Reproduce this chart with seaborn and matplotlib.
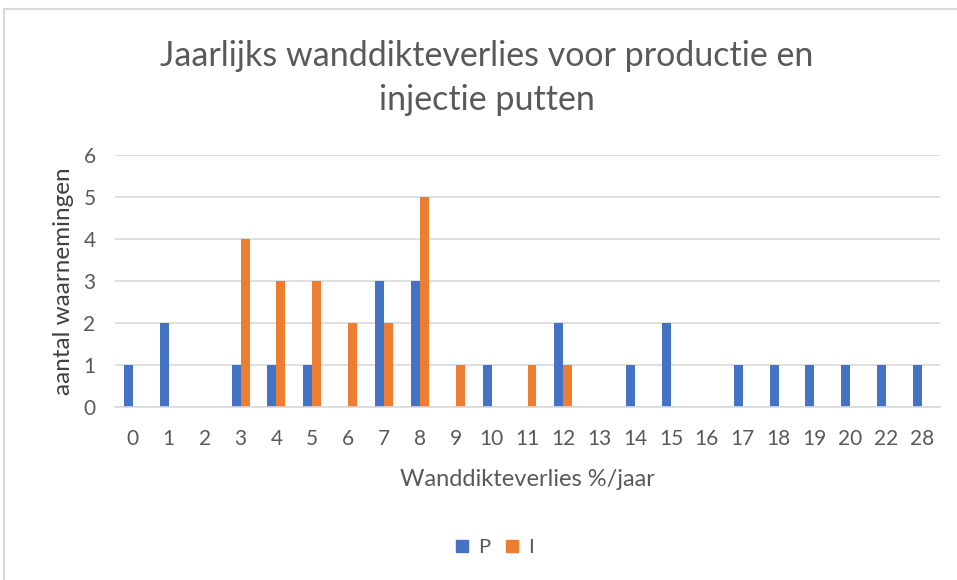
import numpy as np
import pandas as pd
import seaborn as sns
import matplotlib.pyplot as plt
from matplotlib.lines import Line2D

# data
categorieen = ["0", "1", "2", "3", "4", "5", "6", "7", "8", "9", "10", "11",
               "12", "13", "14", "15", "16", "17", "18", "19", "20", "22", "28"]
p_waarden = [1, 2, 0, 1, 1, 1, 0, 3, 3, 0, 1, 0, 2, 0, 1, 2, 0, 1, 1, 1, 1, 1, 1]
i_waarden = [0, 0, 0, 4, 3, 3, 2, 2, 5, 1, 0, 1, 1, 0, 0, 0, 0, 0, 0, 0, 0, 0, 0]
reeksen = ["P", "I"]
kleuren = ["#4472C4", "#ED7D31"]

df = pd.DataFrame({
    "verlies": categorieen * 2,
    "aantal": p_waarden + i_waarden,
    "reeks": ["P"] * len(categorieen) + ["I"] * len(categorieen),
})

sns.set_theme(style="white")
plt.rcParams["font.family"] = ["Lato", "DejaVu Sans"]

fig = plt.figure(figsize=(9.57, 5.80), dpi=100)
ax = fig.add_axes([115 / 957, 1 - 407 / 580, (940 - 115) / 957, (407 - 155) / 580])

sns.barplot(data=df, x="verlies", y="aantal", hue="reeks", order=categorieen,
            hue_order=reeksen, palette=kleuren, width=0.5, ax=ax,
            saturation=1, legend=False, linewidth=0)

ax.set_xlim(-0.5, len(categorieen) - 0.5)
ax.set_ylim(0, 6)
ax.set_yticks(range(0, 7))
ax.grid(axis="y", color="#D9D9D9", linewidth=1.2)
ax.set_axisbelow(True)
for s in ["top", "right", "left"]:
    ax.spines[s].set_visible(False)
ax.spines["bottom"].set_color("#D9D9D9")
ax.spines["bottom"].set_linewidth(1.2)
ax.tick_params(axis="both", length=0, labelsize=15, colors="#595959")
ax.tick_params(axis="x", pad=16)
ax.tick_params(axis="y", pad=14)

ax.set_xlabel("Wanddikteverlies %/jaar", fontsize=17, color="#595959", labelpad=14)
ax.set_ylabel("aantal waarnemingen", fontsize=17.5, color="#404040", labelpad=7)

fig.text(487 / 957, 1 - 78 / 580, "Jaarlijks wanddikteverlies voor productie en\ninjectie putten",
         ha="center", va="center", fontsize=24.5, color="#595959", linespacing=1.5)

handles = [Line2D([], [], marker="s", linestyle="none", markersize=9,
                  markerfacecolor=k, markeredgecolor=k) for k in kleuren]
fig.legend(handles, reeksen, loc="center", bbox_to_anchor=(493 / 957, 1 - 547 / 580),
           ncol=2, frameon=False, fontsize=14.5, labelcolor="#595959",
           handletextpad=0.3, columnspacing=0.6, handlelength=1)

# chart frame like the excel export
fig.patches.append(plt.Rectangle((4 / 957, -0.1), 1.2, 1 - 9 / 580 + 0.1,
                                 transform=fig.transFigure, fill=False,
                                 edgecolor="#D9D9D9", linewidth=1.5))

fig.savefig("out.png", dpi=100)
